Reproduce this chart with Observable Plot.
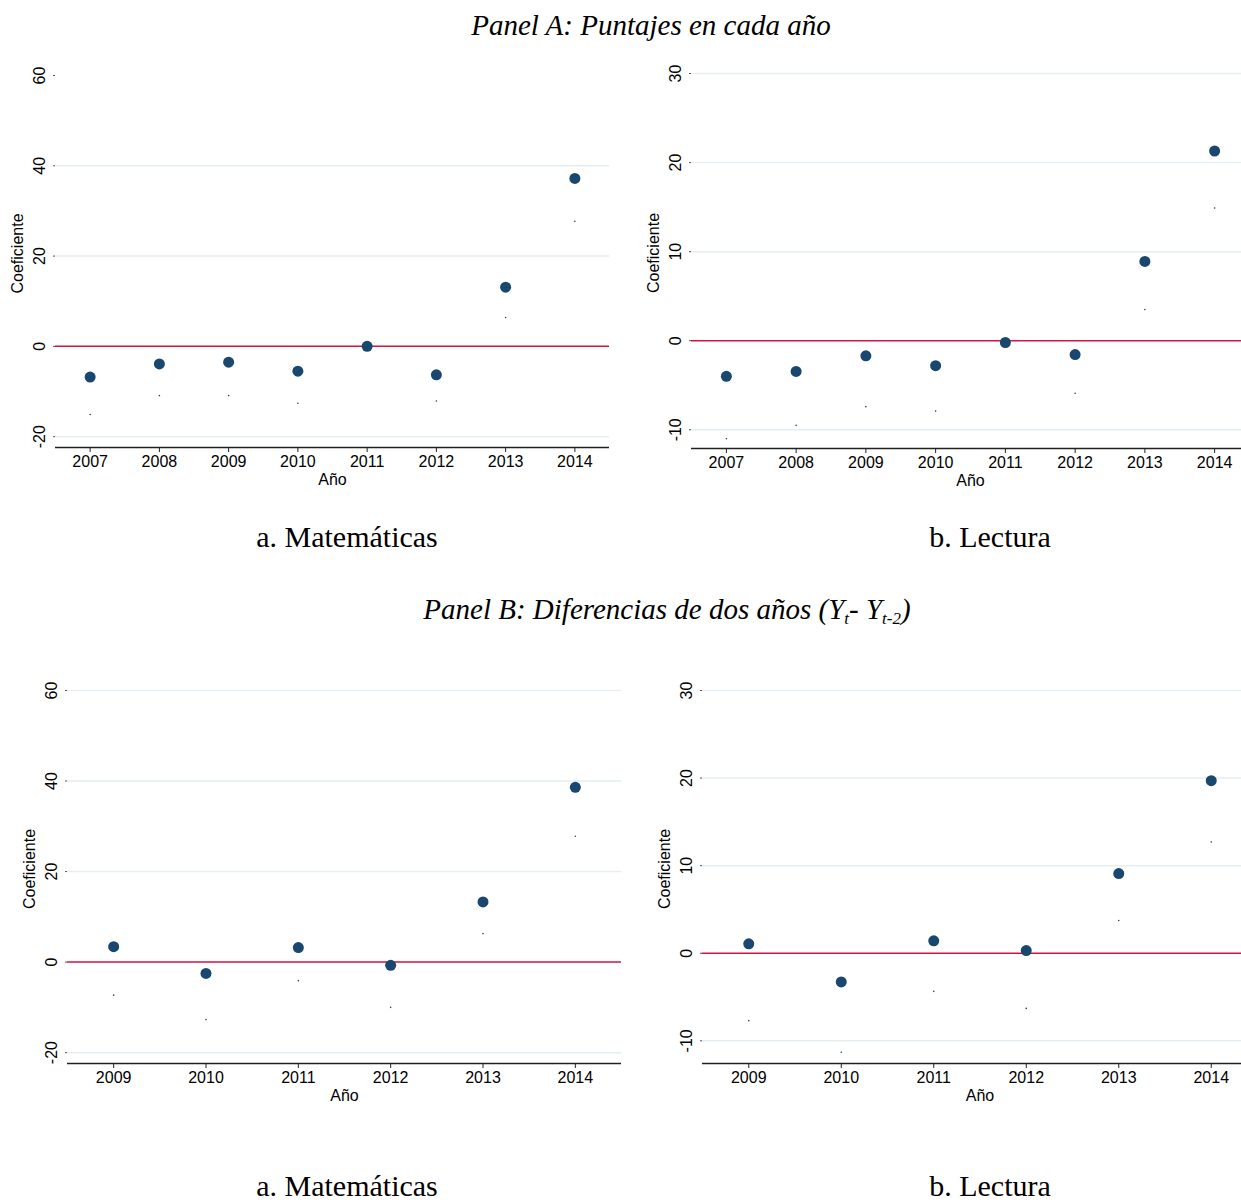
<!DOCTYPE html>
<html>
<head>
<meta charset="utf-8">
<script src="https://cdn.jsdelivr.net/npm/d3@7"></script>
<script src="https://cdn.jsdelivr.net/npm/@observablehq/plot@0.6"></script>
<style>
  html, body { margin: 0; padding: 0; background: #fff; overflow: hidden; }
  #page { position: relative; width: 1241px; height: 1203px; overflow: hidden; background: #fff; }
  #labels { position: absolute; left: 0; top: 0; }
  .panel { position: absolute; }
  .panel svg { overflow: visible; max-width: none !important; }
</style>
</head>
<body>
<div id="page">
  <svg id="labels" width="1241" height="1203" font-family="'Liberation Serif','Times New Roman',serif" fill="#000">
    <text x="651" y="35" text-anchor="middle" font-size="29" font-style="italic">Panel A: Puntajes en cada año</text>
    <text x="347" y="547" text-anchor="middle" font-size="30">a. Matemáticas</text>
    <text x="990" y="547" text-anchor="middle" font-size="30">b. Lectura</text>
    <text x="667" y="619" text-anchor="middle" font-size="29" font-style="italic">Panel B: Diferencias de dos años (Y<tspan font-size="17" dy="5">t</tspan><tspan dy="-5">- Y</tspan><tspan font-size="17" dy="5">t-2</tspan><tspan dy="-5">)</tspan></text>
    <text x="347" y="1196" text-anchor="middle" font-size="30">a. Matemáticas</text>
    <text x="990" y="1196" text-anchor="middle" font-size="30">b. Lectura</text>
  </svg>
  <div id="pA1" class="panel" style="left:0px; top:0px; width:620px;"></div>
  <div id="pA2" class="panel" style="left:640px; top:0px; width:619px;"></div>
  <div id="pB1" class="panel" style="left:0px; top:620px; width:632px;"></div>
  <div id="pB2" class="panel" style="left:640px; top:620px; width:627px;"></div>
</div>
<script>
// Panel A: yearly score coefficients (2011 is the reference year)
const yearsLevels = [2007, 2008, 2009, 2010, 2011, 2012, 2013, 2014];
const mathLevelCoef  = [-6.8, -3.9, -3.5, -5.5, 0, -6.3, 13.1, 37.2];
const mathLevelLower = [-15.1, -10.9, -10.9, -12.6, null, -12.1, 6.4, 27.7];
const readLevelCoef  = [-4.0, -3.45, -1.7, -2.8, -0.2, -1.55, 8.9, 21.3];
const readLevelLower = [-11.0, -9.5, -7.4, -7.9, null, -5.9, 3.5, 14.9];

// Panel B: two-year differences (Y_t - Y_t-2)
const yearsDiff = [2009, 2010, 2011, 2012, 2013, 2014];
const mathDiffCoef  = [3.4, -2.5, 3.2, -0.7, 13.3, 38.6];
const mathDiffLower = [-7.3, -12.7, -4.1, -10.0, 6.3, 27.8];
const readDiffCoef  = [1.07, -3.27, 1.42, 0.3, 9.1, 19.7];
const readDiffLower = [-7.7, -11.3, -4.35, -6.3, 3.74, 12.7];

// Axis ticks
const mathTicks = [-20, 0, 20, 40, 60];
const readTicks = [-10, 0, 10, 20, 30];

const navy = "#1a476f";
const refRed = "#d3123e";
const gridColor = "#e6eef1";

function rows(years, coef, lower) {
  return years.map((year, i) => ({year, coef: coef[i], lower: lower[i]}));
}

function panel({data, years, yDomain, yTicks, gridTicks, width, height, marginLeft, marginRight, marginTop, marginBottom}) {
  const xDomain = [years[0] - 0.5, years[years.length - 1] + 0.5];
  return Plot.plot({
    width, height, marginLeft, marginRight, marginTop, marginBottom,
    x: {domain: xDomain},
    y: {domain: yDomain},
    style: {fontFamily: "'Liberation Sans', Arial, sans-serif", fontSize: "16px", color: "#000", background: "transparent", overflow: "visible"},
    marks: [
      Plot.gridY(gridTicks, {stroke: gridColor, strokeOpacity: 1, strokeWidth: 1.5}),
      Plot.axisY(yTicks, {tickSize: 2, tickFormat: () => "", stroke: "#555", label: null}),
      Plot.text(yTicks, {y: d => d, text: d => String(d), frameAnchor: "left", rotate: -90,
        textAnchor: "middle", lineAnchor: "bottom", dx: -11, fontSize: 16}),
      Plot.text(["Coeficiente"], {frameAnchor: "left", rotate: -90, textAnchor: "middle",
        lineAnchor: "middle", dx: -38, dy: -8, fontSize: 16}),
      Plot.ruleY([yDomain[0]], {stroke: "#222", strokeWidth: 1.5}),
      Plot.axisX(years, {tickSize: 5, tickPadding: 3, tickFormat: d => String(d), label: null,
        fontSize: 16, stroke: "#222"}),
      Plot.text(["Año"], {frameAnchor: "bottom", lineAnchor: "middle", dy: 32, fontSize: 16}),
      Plot.ruleY([0], {stroke: refRed, strokeWidth: 1.5}),
      Plot.dot(data.filter(d => d.lower != null), {x: "year", y: "lower", r: 0.8, fill: navy, stroke: null}),
      Plot.dot(data, {x: "year", y: "coef", r: 5.5, fill: navy, stroke: null})
    ]
  });
}

document.getElementById("pA1").append(panel({
  data: rows(yearsLevels, mathLevelCoef, mathLevelLower), years: yearsLevels,
  yDomain: [-22.4, 60], yTicks: mathTicks, gridTicks: [-20, 20, 40],
  width: 620, height: 497, marginLeft: 55, marginRight: 11, marginTop: 75, marginBottom: 50
}));

document.getElementById("pA2").append(panel({
  data: rows(yearsLevels, readLevelCoef, readLevelLower), years: yearsLevels,
  yDomain: [-12.1, 30], yTicks: readTicks, gridTicks: [-10, 10, 20, 30],
  width: 619, height: 498, marginLeft: 51, marginRight: 10, marginTop: 73, marginBottom: 50
}));

document.getElementById("pB1").append(panel({
  data: rows(yearsDiff, mathDiffCoef, mathDiffLower), years: yearsDiff,
  yDomain: [-22.4, 60], yTicks: mathTicks, gridTicks: [-20, 20, 40, 60],
  width: 632, height: 493, marginLeft: 67, marginRight: 11, marginTop: 70, marginBottom: 50
}));

document.getElementById("pB2").append(panel({
  data: rows(yearsDiff, readDiffCoef, readDiffLower), years: yearsDiff,
  yDomain: [-12.59, 30], yTicks: readTicks, gridTicks: [-10, 10, 20, 30],
  width: 627, height: 493, marginLeft: 62, marginRight: 10, marginTop: 70, marginBottom: 50
}));
</script>
</body>
</html>
